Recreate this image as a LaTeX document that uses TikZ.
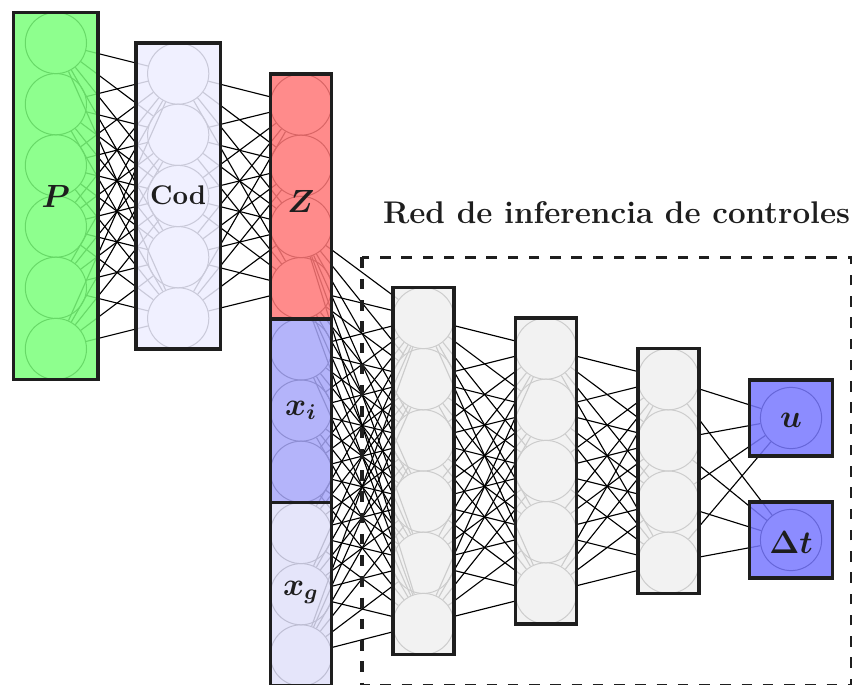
\documentclass[tikz,border=0pt]{standalone}
\usepackage{graphicx}
\usepackage{amsmath,bm}
\definecolor{colP}{RGB}{122,255,122}
\definecolor{colCod}{RGB}{237,237,255}
\definecolor{colZ}{RGB}{255,119,119}
\definecolor{colXi}{RGB}{167,167,249}
\definecolor{colXg}{RGB}{224,224,249}
\definecolor{colH}{RGB}{240,240,240}
\definecolor{colOut}{RGB}{120,120,255}
\definecolor{frame}{RGB}{30,30,30}
\newcommand{\mlabel}[1]{\scalebox{1.07}{$\bm{#1}$}}
\tikzset{
  neuron/.style={circle, draw=black, line width=0.4pt, minimum size=24.48pt, inner sep=0pt},
  conn/.style={draw=black, line width=0.45pt},
  layerbox/.style={draw=frame, line width=1.4pt, fill opacity=0.85, inner sep=0pt},
  widebox/.style={layerbox, minimum width=33.8pt},
  narrowbox/.style={layerbox, minimum width=24.48pt},
  outbox/.style={layerbox, fill=colOut, minimum width=33.04pt, minimum height=30.24pt},
  dashbox/.style={draw=frame, line width=1.4pt, dash pattern=on 4.2pt off 4.3pt},
  lbl/.style={inner sep=0pt, anchor=base, text=frame},
  mathlbl/.style={lbl, font=\large},
}
\begin{document}
\begin{tikzpicture}[x=0.4pt, y=-0.4pt]
\useasboundingbox (0,0) rectangle (852,685);

% neurons of every layer
\foreach \k in {1,...,6} \node[neuron] (p\k) at (55.9, {43+61.2*(\k-1)}) {};
\foreach \k in {1,...,5} \node[neuron] (c\k) at (178.2, {73.6+61.2*(\k-1)}) {};
\foreach \k in {1,...,10} \node[neuron] (z\k) at (301, {104.6+61.2*(\k-1)}) {};
\foreach \k in {1,...,6} \node[neuron] (h\k) at (423.4, {318+61.2*(\k-1)}) {};
\foreach \k in {1,...,5} \node[neuron] (k\k) at (545.9, {348.6+61.2*(\k-1)}) {};
\foreach \k in {1,...,4} \node[neuron] (m\k) at (668.4, {379.2+61.2*(\k-1)}) {};
\node[neuron] (o1) at (791, 418) {};
\node[neuron] (o2) at (791, 540) {};

% fully connected links between consecutive layers
\foreach \i in {1,...,6} \foreach \j in {1,...,5} \draw[conn] (p\i) -- (c\j);
\foreach \i in {1,...,5} \foreach \j in {1,...,4} \draw[conn] (c\i) -- (z\j);
\foreach \i in {3,...,10} \foreach \j in {1,...,6} \draw[conn] (z\i) -- (h\j);
\foreach \i in {1,...,6} \foreach \j in {1,...,5} \draw[conn] (h\i) -- (k\j);
\foreach \i in {1,...,5} \foreach \j in {1,...,4} \draw[conn] (k\i) -- (m\j);
\foreach \i in {1,...,4} \foreach \j in {1,2} \draw[conn] (m\i) -- (o\j);

% translucent layer boxes
\node[widebox, fill=colP, minimum height=146.88pt] (Pbox) at (55.9,196) {};
\node[widebox, fill=colCod, minimum height=122.4pt] (Codbox) at (178.2,196) {};
\node[narrowbox, fill=colZ, minimum height=97.92pt] (Zbox) at (301,196.4) {};
\node[narrowbox, fill=colXi, minimum height=73.44pt] (Xibox) at (301,410.6) {};
\node[narrowbox, fill=colXg, minimum height=73.44pt] (Xgbox) at (301,594.2) {};
\node[narrowbox, fill=colH, minimum height=146.88pt] (H1box) at (423.4,471) {};
\node[narrowbox, fill=colH, minimum height=122.4pt] (H2box) at (545.9,471) {};
\node[narrowbox, fill=colH, minimum height=97.92pt] (H3box) at (668.4,471) {};
\node[outbox] (Ubox) at (791,418) {};
\node[outbox] (Tbox) at (791,540) {};

% control inference block
\draw[dashbox] (362,257.5) rectangle (851.5,685.5);
\node[lbl, font=\large\bfseries] (title) at (616.5,224) {\scalebox{1.045}{Red de inferencia de controles}};

% labels
\node[mathlbl] (Plbl) at (55.9,207.5) {\mlabel{P}};
\node[lbl, font=\bfseries] (Codlbl) at (178.2,205) {\scalebox{1.08}{Cod}};
\node[mathlbl] (Zlbl) at (301,212.5) {\mlabel{Z}};
\node[mathlbl] (Xilbl) at (301,415) {\mlabel{x_i}};
\node[mathlbl] (Xglbl) at (301,595) {\mlabel{x_g}};
\node[mathlbl] (Ulbl) at (791,427.5) {\mlabel{u}};
\node[mathlbl] (Tlbl) at (791,553) {\mlabel{\Delta t}};
\end{tikzpicture}
\end{document}
